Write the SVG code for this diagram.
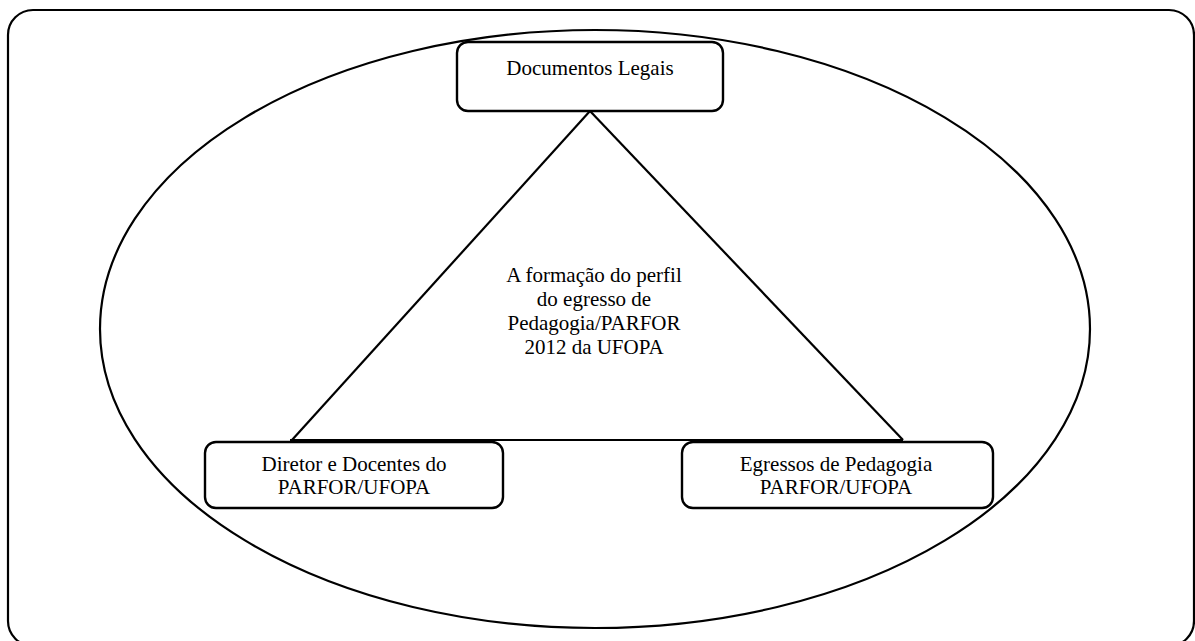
<svg xmlns="http://www.w3.org/2000/svg" width="1195" height="641" viewBox="0 0 1195 641">
<style>
.ln{fill:none;stroke:#000;stroke-width:2.2}
.bx{fill:#fff;stroke:#000;stroke-width:2.4}
.t{font-family:'Liberation Serif','Times New Roman',Times,'DejaVu Serif',serif;font-size:21px;fill:#000;text-anchor:middle}
</style>
<rect width="1195" height="641" fill="#fff"/>
<g id="frame"><rect class="ln" x="8" y="10" width="1186" height="636" rx="25" ry="25"/></g>
<g id="ellipse"><ellipse class="ln" cx="595" cy="329" rx="495" ry="299"/></g>
<g id="connectors">
<line class="ln" x1="590" y1="111" x2="292" y2="440"/>
<line class="ln" x1="590" y1="111" x2="903" y2="440"/>
<line class="ln" x1="290" y1="440" x2="903" y2="440"/>
</g>
<g id="center-label">
<text class="t" x="594" y="282" font-family="Liberation Serif, serif">A formação do perfil</text>
<text class="t" x="594" y="306">do egresso de</text>
<text class="t" x="594" y="330">Pedagogia/PARFOR</text>
<text class="t" x="594" y="354">2012 da UFOPA</text>
</g>
<g id="node-documentos">
<rect class="bx" x="457" y="42" width="266" height="69" rx="11"/>
<text class="t" x="590" y="75">Documentos Legais</text>
</g>
<g id="node-diretor">
<rect class="bx" x="205" y="442" width="298" height="66" rx="11"/>
<text class="t" x="354" y="471">Diretor e Docentes do</text>
<text class="t" x="354" y="494">PARFOR/UFOPA</text>
</g>
<g id="node-egressos">
<rect class="bx" x="682" y="442" width="311" height="66" rx="11"/>
<text class="t" x="836" y="471">Egressos de Pedagogia</text>
<text class="t" x="836" y="494">PARFOR/UFOPA</text>
</g>
</svg>
